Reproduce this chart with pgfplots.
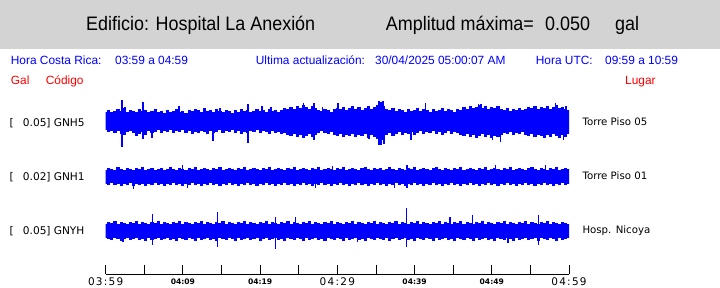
\documentclass[border=0pt]{standalone}
\usepackage{fontspec}
\setmainfont{Liberation Sans}
\newfontfamily\titlefont[FakeStretch=0.92]{Liberation Sans}
\newfontfamily\dejavu{DejaVu Sans}
\newfontfamily\bigtick[LetterSpace=12]{DejaVu Sans}
\usepackage{pgfplots}
\pgfplotsset{compat=1.18}
\usepackage{pgfplotstable}
\definecolor{hdrgray}{RGB}{211,211,211}

% envelope of each trace, sampled every 0.4 min (top / bottom), heights in px from the image bottom
\pgfplotstableread{
x at ab bt bb ct cb
0.0 176 158 118 104 64 50
0.4 178 156 120 103 66 49
0.8 176 157 119 105 65 48
1.2 177 155 118 103 67 50
1.6 179 157 121 104 64 49
2.0 177 154 119 102 66 47
2.4 180 153 118 104 65 49
2.8 176 156 120 103 64 50
3.2 178 157 119 105 66 48
3.6 177 155 118 102 65 49
4.0 176 152 120 104 67 50
4.4 179 154 119 103 64 48
4.8 177 156 121 104 66 49
5.2 178 153 118 102 65 47
5.6 176 157 119 104 64 50
6.0 177 155 120 103 66 48
6.4 179 156 118 105 65 49
6.8 176 158 119 103 67 50
7.2 177 155 120 104 64 48
7.6 175 157 118 102 66 49
8.0 178 156 119 104 65 50
8.4 176 158 121 103 64 48
8.8 177 155 119 105 66 49
9.2 179 157 118 103 65 47
9.6 176 156 120 104 67 50
10.0 177 158 119 102 64 49
10.4 175 155 118 104 66 48
10.8 178 157 120 103 65 50
11.2 177 154 119 105 64 49
11.6 179 156 121 103 66 47
12.0 178 155 118 104 65 50
12.4 176 157 119 102 67 48
12.8 180 156 120 104 64 49
13.2 177 154 119 103 66 50
13.6 178 157 118 105 65 48
14.0 176 155 120 103 64 49
14.4 179 156 119 104 66 47
14.8 177 158 121 102 65 50
15.2 176 155 118 104 67 49
15.6 178 157 119 103 64 48
16.0 177 156 120 105 66 50
16.4 175 158 119 103 65 49
16.8 178 155 118 104 64 47
17.2 176 157 120 102 66 50
17.6 179 154 119 104 65 48
18.0 177 156 121 103 67 49
18.4 178 155 118 105 64 50
18.8 176 157 119 103 66 48
19.2 177 156 120 104 65 49
19.6 179 158 119 102 64 50
20.0 177 155 118 104 66 47
20.4 178 157 120 103 65 49
20.8 176 156 119 105 67 50
21.2 179 154 121 103 64 48
21.6 177 157 118 104 66 49
22.0 178 155 119 102 65 50
22.4 176 156 120 104 64 48
22.8 178 154 119 103 66 49
23.2 180 155 118 105 65 47
23.6 179 153 120 103 67 50
24.0 181 152 119 104 64 49
24.4 179 154 121 102 66 48
24.8 182 151 118 104 65 50
25.2 180 153 119 103 64 49
25.6 183 150 120 105 66 47
26.0 181 152 119 103 65 50
26.4 179 154 118 104 67 48
26.8 182 151 120 102 64 49
27.2 180 153 119 104 66 50
27.6 178 155 121 103 65 48
28.0 177 157 118 105 64 49
28.4 179 155 119 103 66 47
28.8 178 154 120 104 65 50
29.2 176 156 119 102 67 49
29.6 179 153 118 104 64 48
30.0 180 152 120 103 66 50
30.4 179 154 119 105 65 49
30.8 181 151 121 103 64 47
31.2 178 153 118 104 66 50
31.6 180 152 119 102 65 48
32.0 182 154 120 104 67 49
32.4 179 151 119 103 64 50
32.8 181 153 118 105 66 48
33.2 178 152 120 103 65 49
33.6 180 154 121 104 64 47
34.0 182 150 119 102 66 50
34.4 179 153 118 104 65 49
34.8 181 151 120 103 67 48
35.2 183 149 119 105 64 50
35.6 184 146 120 103 66 49
36.0 182 148 118 104 65 48
36.4 179 153 119 102 64 50
36.8 178 155 121 104 66 47
37.2 180 152 119 103 65 49
37.6 177 154 118 105 67 50
38.0 179 156 120 103 64 48
38.4 178 153 119 104 66 49
38.8 176 155 118 102 65 50
39.2 179 154 120 104 64 48
39.6 177 156 119 103 66 49
40.0 178 153 121 105 65 47
40.4 180 155 118 103 67 50
40.8 177 157 119 104 64 49
41.2 179 154 120 102 66 48
41.6 178 156 119 104 65 50
42.0 176 155 118 103 64 49
42.4 179 157 120 105 66 47
42.8 177 154 121 103 65 50
43.2 178 156 119 104 67 48
43.6 180 153 118 102 64 49
44.0 177 155 120 104 66 50
44.4 179 157 119 103 65 48
44.8 178 154 118 105 64 49
45.2 176 156 120 103 66 47
45.6 179 155 119 104 65 50
46.0 178 153 121 102 67 49
46.4 181 152 118 104 64 48
46.8 179 154 119 103 66 50
47.2 182 151 120 105 65 49
47.6 180 153 119 103 64 47
48.0 181 150 118 104 66 50
48.4 183 152 120 102 65 48
48.8 180 154 119 104 67 49
49.2 182 151 121 103 64 50
49.6 179 153 118 105 66 48
50.0 181 150 119 103 65 49
50.4 180 152 120 104 64 47
50.8 182 151 119 102 66 50
51.2 179 153 118 104 65 49
51.6 178 155 120 103 67 48
52.0 180 154 119 105 64 50
52.4 177 156 121 103 66 49
52.8 179 153 118 104 65 47
53.2 178 155 119 102 64 50
53.6 180 154 120 104 66 48
54.0 178 156 119 103 65 49
54.4 179 153 118 105 67 50
54.8 181 152 120 103 64 48
55.2 180 154 121 104 66 49
55.6 182 151 119 102 65 50
56.0 179 153 118 104 64 47
56.4 181 152 120 103 66 50
56.8 180 150 119 105 65 49
57.2 182 153 118 103 67 48
57.6 179 151 120 104 64 50
58.0 181 154 119 102 66 49
58.4 183 152 121 104 65 47
58.8 180 150 118 103 64 50
59.2 181 153 119 105 66 48
59.6 179 151 120 103 65 49
60.0 178 154 119 104 64 50
}\bands

% isolated spikes: x (min), top, bottom
\pgfplotstableread{
x top bot
2.11 188 141
2.50 181 167
4.83 186 149
6.00 167 150
9.49 182 167
13.92 167 147
14.80 180 167
18.43 184 145
20.24 182 167
21.40 181 167
25.60 185 167
26.97 185 148
28.10 181 167
30.08 185 167
34.10 167 149
35.40 187 143
35.66 186 143
35.92 187 150
36.05 167 144
39.54 167 148
41.39 185 167
48.30 184 167
48.60 184 167
50.10 167 148
51.10 167 146
58.22 185 167
59.30 167 148
59.60 182 167
}\spikesA
\pgfplotstableread{
x top bot
3.63 111 99
9.97 123 111
10.57 111 100
27.15 111 100
29.35 122 111
37.40 111 100
39.00 123 100
50.45 123 111
56.93 123 111
}\spikesB
\pgfplotstableread{
x top bot
2.24 57 46
6.04 74 43
14.50 76 41
21.96 71 39
24.60 71 57
32.60 57 46
38.93 80 41
44.60 71 57
47.50 73 57
52.10 57 45
56.07 73 43
}\spikesC

\begin{document}
\begin{tikzpicture}[x=1pt,y=1pt]
\useasboundingbox (0pt,0pt) rectangle (720pt,288pt);
\fill[hdrgray] (0pt,239pt) rectangle (720pt,288pt);

\begin{scope}[every node/.style={anchor=base west, inner sep=0pt}]
% header
\node[font=\titlefont\fontsize{19.5}{22}\selectfont] at (86pt,257.3pt) {Edificio: Hospital La Anexión};
\node[font=\titlefont\fontsize{19.5}{22}\selectfont] at (385.7pt,257.3pt) {Amplitud máxima=};
\node[font=\titlefont\fontsize{19.5}{22}\selectfont] at (545pt,257.3pt) {0.050};
\node[font=\titlefont\fontsize{19.5}{22}\selectfont] at (615pt,257.3pt) {gal};
% blue row
\begin{scope}[every node/.append style={text=blue, font=\fontsize{11.9}{13}\selectfont}]
\node at (10.7pt,223pt) {Hora Costa Rica:};
\node at (115pt,223pt) {03:59 a 04:59};
\node at (255.7pt,223pt) {Ultima actualización:};
\node at (375pt,223pt) {30/04/2025 05:00:07 AM};
\node at (535.7pt,223pt) {Hora UTC:};
\node at (605pt,223pt) {09:59 a 10:59};
\end{scope}
% red row
\begin{scope}[every node/.append style={text=red, font=\fontsize{11.9}{13}\selectfont}]
\node at (10.7pt,203pt) {Gal};
\node at (45.7pt,203pt) {Código};
\node at (625pt,203pt) {Lugar};
\end{scope}
% left labels
\begin{scope}[every node/.append style={font=\dejavu\fontsize{10.6}{12}\selectfont}]
\node at (9.3pt,161.3pt) {[};
\node at (22.7pt,161.3pt) {0.05]};
\node at (53.6pt,161.3pt) {GNH5};
\node at (9.3pt,107.3pt) {[};
\node at (22.7pt,107.3pt) {0.02]};
\node at (53.6pt,107.3pt) {GNH1};
\node at (9.3pt,53.7pt) {[};
\node at (22.7pt,53.7pt) {0.05]};
\node at (53.6pt,53.7pt) {GNYH};
\end{scope}
% right labels
\begin{scope}[every node/.append style={font=\dejavu\fontsize{10.2}{12}\selectfont}]
\node at (582.3pt,162pt) {Torre Piso 05};
\node at (582.3pt,108pt) {Torre Piso 01};
\node at (582.3pt,54pt) {Hosp. Nicoya};
\end{scope}
\end{scope}

\begin{axis}[
  at={(105.7pt,14pt)}, anchor=south west, scale only axis,
  x=7.7217pt, y=1pt,
  xmin=0, xmax=60, ymin=14, ymax=200,
  enlargelimits=false,
  axis x line=bottom, axis y line=none,
  axis line style={-, line width=0.9pt, black},
  tick align=inside, major tick length=9pt,
  tick style={black, line width=0.9pt},
  xtick={0,5,...,60},
  xticklabels={
    {\bigtick\fontsize{10.5}{12}\selectfont 03:59},{},
    {\raisebox{1.7pt}{\dejavu\bfseries\fontsize{7.6}{8}\selectfont 04:09}},{},
    {\raisebox{1.7pt}{\dejavu\bfseries\fontsize{7.6}{8}\selectfont 04:19}},{},
    {\bigtick\fontsize{10.5}{12}\selectfont 04:29},{},
    {\raisebox{1.7pt}{\dejavu\bfseries\fontsize{7.6}{8}\selectfont 04:39}},{},
    {\raisebox{1.7pt}{\dejavu\bfseries\fontsize{7.6}{8}\selectfont 04:49}},{},
    {\bigtick\fontsize{10.5}{12}\selectfont 04:59}},
  xticklabel style={anchor=base, inner sep=0pt, yshift=-12pt},
]
\addplot[draw=none, mark=none, error bars/.cd, y dir=minus, y explicit, error mark=none,
  error bar style={draw=blue, line width=3.15pt}]
  table[x=x, y=at, y error minus expr=\thisrow{at}-\thisrow{ab}] {\bands};
\addplot[draw=none, mark=none, error bars/.cd, y dir=minus, y explicit, error mark=none,
  error bar style={draw=blue, line width=3.15pt}]
  table[x=x, y=bt, y error minus expr=\thisrow{bt}-\thisrow{bb}] {\bands};
\addplot[draw=none, mark=none, error bars/.cd, y dir=minus, y explicit, error mark=none,
  error bar style={draw=blue, line width=3.15pt}]
  table[x=x, y=ct, y error minus expr=\thisrow{ct}-\thisrow{cb}] {\bands};
\addplot[draw=none, mark=none, error bars/.cd, y dir=minus, y explicit, error mark=none,
  error bar style={draw=blue, line width=1.4pt}]
  table[x=x, y=top, y error minus expr=\thisrow{top}-\thisrow{bot}] {\spikesA};
\addplot[draw=none, mark=none, error bars/.cd, y dir=minus, y explicit, error mark=none,
  error bar style={draw=blue, line width=1.4pt}]
  table[x=x, y=top, y error minus expr=\thisrow{top}-\thisrow{bot}] {\spikesB};
\addplot[draw=none, mark=none, error bars/.cd, y dir=minus, y explicit, error mark=none,
  error bar style={draw=blue, line width=1.4pt}]
  table[x=x, y=top, y error minus expr=\thisrow{top}-\thisrow{bot}] {\spikesC};
\end{axis}
\end{tikzpicture}
\end{document}
